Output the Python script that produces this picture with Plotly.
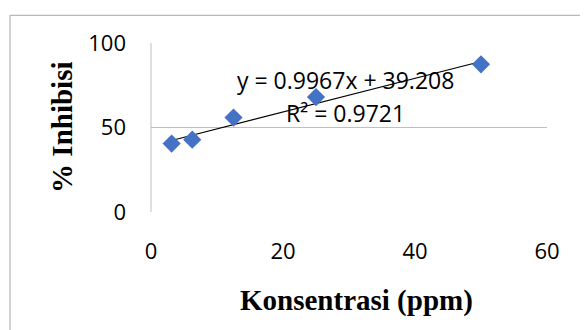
import plotly.graph_objects as go

konsentrasi = [3.125, 6.25, 12.5, 25, 50]
inhibisi = [40.5, 42.8, 55.9, 68.0, 87.4]
slope = 0.9967
intercept = 39.208
r2 = 0.9721
x_ticks = [0, 20, 40, 60]
y_ticks = [0, 50, 100]

trend_x = [min(konsentrasi), max(konsentrasi)]
trend_y = [slope * v + intercept for v in trend_x]

fig = go.Figure()
fig.add_trace(go.Scatter(x=trend_x, y=trend_y, mode="lines",
                         line=dict(color="black", width=1.2), hoverinfo="skip"))
fig.add_trace(go.Scatter(x=konsentrasi, y=inhibisi, mode="markers",
                         marker=dict(symbol="diamond", size=14, color="#4472C4",
                                     line=dict(width=0))))

# page body has an 8px margin, so the figure is sized to fit the 588x330 window
fig.update_layout(
    width=580, height=322,
    margin=dict(l=143, r=41, t=35, b=118),
    paper_bgcolor="white", plot_bgcolor="white",
    showlegend=False,
    font=dict(family="Open Sans, Liberation Sans", color="#000000"),
)
fig.update_xaxes(range=[0, 60], tickvals=x_ticks, showgrid=False, zeroline=False,
                 showline=False, ticks="", tickfont=dict(size=22),
                 ticklabelstandoff=24)
fig.update_yaxes(range=[0, 100], tickvals=y_ticks, showgrid=True, gridcolor="#BFBFBF",
                 gridwidth=1, zeroline=False, showline=False, ticks="",
                 tickfont=dict(size=22), ticklabelstandoff=24)

# left axis line
fig.add_shape(type="line", xref="paper", yref="paper", x0=0, x1=0, y0=0, y1=1,
              line=dict(color="#BFBFBF", width=1))
# outer chart border
fig.add_shape(type="rect", xref="paper", yref="paper", x0=-0.356, x1=1.25,
              y0=-0.9, y1=1.164, line=dict(color="#A6A6A6", width=1),
              fillcolor="rgba(0,0,0,0)", layer="below")

ann = dict(xref="paper", yref="paper", showarrow=False, xanchor="center", yanchor="middle")
fig.add_annotation(text=f"y = {slope}x + {intercept}", x=0.49, y=0.779,
                   font=dict(size=23, family="Open Sans, Liberation Sans"), **ann)
fig.add_annotation(text=f"R² = {r2}", x=0.492, y=0.587,
                   font=dict(size=23, family="Open Sans, Liberation Sans"), **ann)

fig.add_annotation(text="<b>% Inhibisi</b>", textangle=-90, x=-0.225, y=0.503,
                   font=dict(size=29, family="Liberation Serif, Times New Roman"), **ann)
fig.add_annotation(text="<b>Konsentrasi (ppm)</b>", x=0.52, y=-0.522,
                   font=dict(size=29, family="Liberation Serif, Times New Roman"), **ann)

fig.write_html("out.html")
